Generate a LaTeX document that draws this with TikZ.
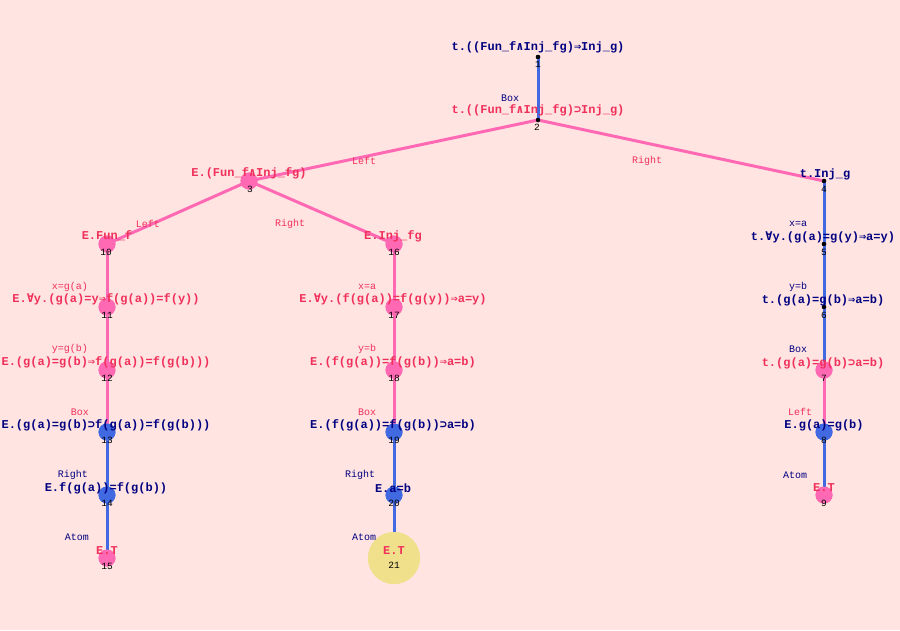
\documentclass[tikz,border=0pt]{standalone}
\usepackage{fontspec}
\setmonofont{Liberation Mono}
\newfontfamily\symf{DejaVu Sans Mono}
\newcommand{\AND}{{\symf\bfseries ∧}}
\newcommand{\IMP}{{\symf\bfseries ⇒}}
\newcommand{\SUPS}{{\symf\bfseries ⊃}}
\newcommand{\ALL}{{\symf\bfseries ∀}}
\newcommand{\PT}{\textbf{t.}}
\newcommand{\PE}{\textbf{E.}}
\definecolor{bg}{HTML}{FFE4E1}
\definecolor{hpink}{HTML}{FF69B4}
\definecolor{tpink}{HTML}{F0305A}
\definecolor{navyc}{HTML}{000080}
\definecolor{royal}{HTML}{4169E1}
\definecolor{khakic}{HTML}{F0E08C}
\tikzset{
  dotp/.style={circle,fill=hpink,inner sep=0pt,minimum size=17pt},
  dotb/.style={circle,fill=royal,inner sep=0pt,minimum size=17pt},
  dotk/.style={circle,fill=black,inner sep=0pt,minimum size=4.5pt},
  doty/.style={circle,fill=khakic,inner sep=0pt,minimum size=52pt},
  ftxt/.style={inner sep=0pt,font=\ttfamily\bfseries\fontsize{12}{12}\selectfont},
  ftp/.style={ftxt,text=tpink},
  ftn/.style={ftxt,text=navyc},
  lbl/.style={inner sep=0pt,font=\ttfamily\fontsize{10}{10}\selectfont},
  lp/.style={lbl,text=tpink},
  ln/.style={lbl,text=navyc},
  num/.style={inner sep=0pt,font=\ttfamily\fontsize{9.5}{9.5}\selectfont,text=black},
  ep/.style={draw=hpink,line width=3pt},
  eb/.style={draw=royal,line width=3pt},
}
\begin{document}
\begin{tikzpicture}[x=1pt,y=-1pt]
\fill[bg] (0,0) rectangle (900,630);
\useasboundingbox (0,0) rectangle (900,630);
% nodes (shapes)
\node[dotk] (n1) at (538,57) {};
\node[dotk] (n2) at (538,120) {};
\node[dotp] (n3) at (249,181) {};
\node[dotk] (n4) at (824,181) {};
\node[dotk] (n5) at (824,244) {};
\node[dotk] (n6) at (824,307) {};
\node[dotp] (n7) at (824,370) {};
\node[dotb] (n8) at (824,432) {};
\node[dotp] (n9) at (824,495) {};
\node[dotp] (n10) at (107,244) {};
\node[dotp] (n11) at (107,307) {};
\node[dotp] (n12) at (107,370) {};
\node[dotb] (n13) at (107,432) {};
\node[dotb] (n14) at (107,495) {};
\node[dotp] (n15) at (107,558) {};
\node[dotp] (n16) at (394,244) {};
\node[dotp] (n17) at (394,307) {};
\node[dotp] (n18) at (394,370) {};
\node[dotb] (n19) at (394,432) {};
\node[dotb] (n20) at (394,495) {};
\node[doty] (n21) at (394,558) {};
% edges
\path[eb] (n1.center) -- (n2.center);
\path[ep] (n2.center) -- (n3.center);
\path[ep] (n2.center) -- (n4.center);
\path[ep] (n3.center) -- (n10.center);
\path[ep] (n3.center) -- (n16.center);
\path[ep] (n10.center) -- (n11.center);
\path[ep] (n11.center) -- (n12.center);
\path[ep] (n12.center) -- (n13.center);
\path[eb] (n13.center) -- (n14.center);
\path[eb] (n14.center) -- (n15.center);
\path[ep] (n16.center) -- (n17.center);
\path[ep] (n17.center) -- (n18.center);
\path[ep] (n18.center) -- (n19.center);
\path[eb] (n19.center) -- (n20.center);
\path[eb] (n20.center) -- (n21.center);
\path[eb] (n4.center) -- (n5.center);
\path[eb] (n5.center) -- (n6.center);
\path[eb] (n6.center) -- (n7.center);
\path[ep] (n7.center) -- (n8.center);
\path[eb] (n8.center) -- (n9.center);
% redraw shapes on top of edges
\foreach \n in {3,7,9,10,11,12,15,16,17,18}{\fill[hpink] (n\n) circle (8.5pt);}
\foreach \n in {8,13,14,19,20}{\fill[royal] (n\n) circle (8.5pt);}
\fill[khakic] (n21) circle (26pt);
\foreach \n in {1,2,4,5,6}{\fill[black] (n\n) circle (2.2pt);}
% edge labels
\node[lp] (e23) at (364,161) {Left};
\node[lp] (e24) at (647,161) {Right};
\node[lp] (e310) at (148,224) {Left};
\node[lp] (e316) at (290,224) {Right};
\node[ln] (e12) at (510,98) {Box};
\node[lp] (e1011) at (70,287) {x=g(a)};
\node[lp] (e1112) at (70,349) {y=g(b)};
\node[lp] (e1213) at (80,412) {Box};
\node[ln] (e1314) at (73,475) {Right};
\node[ln] (e1415) at (77,537) {Atom};
\node[lp] (e1617) at (367,287) {x=a};
\node[lp] (e1718) at (367,349) {y=b};
\node[lp] (e1819) at (367,412) {Box};
\node[ln] (e1920) at (360,475) {Right};
\node[ln] (e2021) at (364,537) {Atom};
\node[ln] (e45) at (798,224) {x=a};
\node[ln] (e56) at (798,287) {y=b};
\node[ln] (e67) at (798,349) {Box};
\node[lp] (e78) at (800,412) {Left};
\node[ln] (e89) at (795,475) {Atom};
% formula texts
\node[ftn] (t1) at (538,47) {\PT((Fun\_f\AND Inj\_fg)\IMP Inj\_g)};
\node[ftp] (t2) at (538,110) {\PT((Fun\_f\AND Inj\_fg)\SUPS Inj\_g)};
\node[ftp] (t3) at (249,173) {\PE(Fun\_f\AND Inj\_fg)};
\node[ftn] (t4) at (825,174) {\PT Inj\_g};
\node[ftn] (t5) at (823,237) {\PT\ALL y.(g(a)=g(y)\IMP a=y)};
\node[ftn] (t6) at (823,300) {\PT(g(a)=g(b)\IMP a=b)};
\node[ftp] (t7) at (823,363) {\PT(g(a)=g(b)\SUPS a=b)};
\node[ftn] (t8) at (824,425) {\PE g(a)=g(b)};
\node[ftp] (t9) at (824,488) {\textbf{E.T}};
\node[ftp] (t10) at (107,236) {\PE Fun\_f};
\node[ftp] (t11) at (106,299) {\PE\ALL y.(g(a)=y\IMP f(g(a))=f(y))};
\node[ftp] (t12) at (106,362) {\PE(g(a)=g(b)\IMP f(g(a))=f(g(b)))};
\node[ftn] (t13) at (106,425) {\PE(g(a)=g(b)\SUPS f(g(a))=f(g(b)))};
\node[ftn] (t14) at (106,488) {\PE f(g(a))=f(g(b))};
\node[ftp] (t15) at (107,551) {\textbf{E.T}};
\node[ftp] (t16) at (393,236) {\PE Inj\_fg};
\node[ftp] (t17) at (393,299) {\PE\ALL y.(f(g(a))=f(g(y))\IMP a=y)};
\node[ftp] (t18) at (393,362) {\PE(f(g(a))=f(g(b))\IMP a=b)};
\node[ftn] (t19) at (393,425) {\PE(f(g(a))=f(g(b))\SUPS a=b)};
\node[ftn] (t20) at (393,488) {\PE a=b};
\node[ftp] (t21) at (394,551) {\textbf{E.T}};
% numbers
\foreach \n/\x/\y in {1/538/64,2/537/127,3/250/189,4/824/189,5/824/252,6/824/315,7/824/378,8/824/440,9/824/503,10/106/252,11/107/315,12/107/378,13/107/440,14/107/503,15/107/566,16/394/252,17/394/315,18/394/378,19/394/440,20/394/503,21/394/565}{
  \node[num] (m\n) at (\x,\y) {\n};
}
\end{tikzpicture}
\end{document}
